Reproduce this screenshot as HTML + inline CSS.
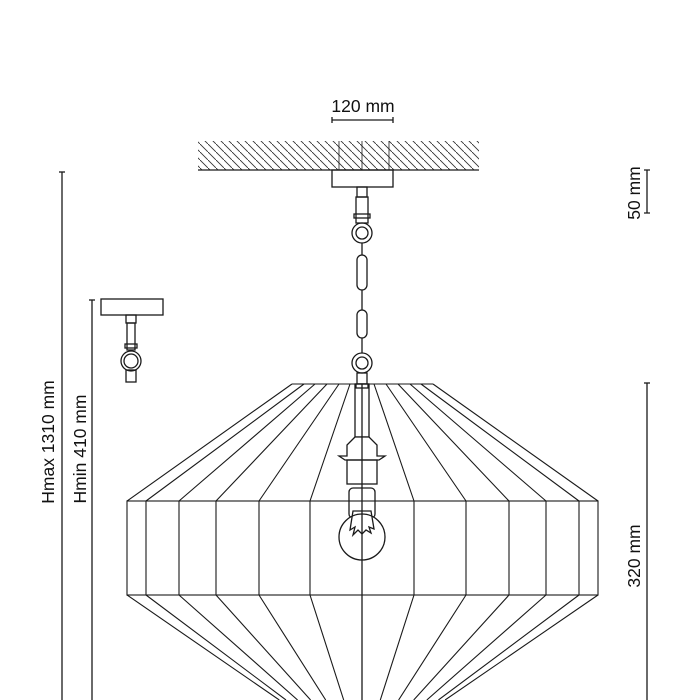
<!DOCTYPE html>
<html><head><style>html,body{margin:0;padding:0;background:#fff;width:700px;height:700px;overflow:hidden}svg{display:block;overflow:hidden}text{font-family:"Liberation Sans",sans-serif;font-size:17.5px;fill:#111;stroke:none}</style></head><body>
<svg width="700" height="700" viewBox="0 0 700 700" fill="none" stroke="#1a1a1a" stroke-width="1.3">
<defs><pattern id="h" width="8" height="8" patternUnits="userSpaceOnUse"><path d="M-2,-2 L10,10" stroke="#333" stroke-width="0.9"/></pattern></defs>
<rect x="198" y="141" width="281" height="29" fill="url(#h)" stroke="none"/>
<line x1="198" y1="170" x2="479" y2="170"/>
<line x1="339" y1="141" x2="339" y2="170" stroke-width="0.8"/><line x1="362" y1="141" x2="362" y2="170" stroke-width="0.8"/><line x1="389" y1="141" x2="389" y2="170" stroke-width="0.8"/>
<rect x="332" y="170" width="61" height="17"/>
<text x="363" y="112" text-anchor="middle">120 mm</text>
<line x1="332" y1="120" x2="393" y2="120"/><path d="M332,117v6M393,117v6"/>
<rect x="357" y="187" width="10" height="10"/>
<rect x="356" y="197" width="12" height="26"/>
<rect x="354" y="214" width="16" height="4"/>
<circle cx="362" cy="233" r="10"/><circle cx="362" cy="233" r="6"/>
<line x1="362" y1="243" x2="362" y2="255"/>
<rect x="357" y="255" width="10" height="35" rx="5"/>
<line x1="362" y1="290" x2="362" y2="310"/>
<rect x="357" y="310" width="10" height="28" rx="5"/>
<line x1="362" y1="338" x2="362" y2="353"/>
<circle cx="362" cy="363" r="10"/><circle cx="362" cy="363" r="6"/>
<rect x="357" y="373" width="10" height="11"/>
<rect x="101" y="299" width="62" height="16"/>
<rect x="126" y="315" width="10" height="8"/><rect x="127" y="323" width="8" height="27"/>
<rect x="125" y="344" width="12" height="4"/>
<circle cx="131" cy="361" r="10"/><circle cx="131" cy="361" r="7"/>
<rect x="126" y="370" width="10" height="12"/>
<g stroke-width="1.1">
<line x1="292" y1="384" x2="433" y2="384"/>
<rect x="127" y="501" width="471" height="94"/>
<path d="M292,384L127,501M304,384L146,501M315,384L179,501M327,384L216,501M339,384L259,501M350,384L310,501M374,384L414,501M386,384L466,501M398,384L509,501M410,384L546,501M421,384L579,501M433,384L598,501"/>
<path d="M146,501V595M179,501V595M216,501V595M259,501V595M310,501V595M414,501V595M466,501V595M509,501V595M546,501V595M579,501V595"/>
<path d="M127,595L279.3,700M146,595L286,700M179,595L297.6,700M216,595L310.6,700M259,595L325.7,700M310,595L343.7,700M414,595L380.3,700M466,595L398.6,700M509,595L413.7,700M546,595L426.8,700M579,595L438.4,700M598,595L445.1,700"/>
</g>
<rect x="355" y="384" width="14" height="53" fill="#fff"/>
<rect x="356" y="384" width="12" height="4"/>
<path d="M355,437L347,445V456H339L345,460H379L385,456H377V445L369,437Z" fill="#fff"/>
<rect x="347" y="460" width="30" height="24"/>
<rect x="349" y="488" width="26" height="30" rx="4"/>
<circle cx="362" cy="537" r="23" fill="#fff"/>
<path d="M353,511L350,530L355,527L353,535L358,530L362,534L366,530L371,533L369,527L374,529L371,511Z"/>
<line x1="362" y1="384" x2="362" y2="700"/>
<line x1="62" y1="172" x2="62" y2="700"/><path d="M59,172h6"/>
<line x1="92" y1="300" x2="92" y2="700"/><path d="M89,300h6"/>
<line x1="647" y1="170" x2="647" y2="213"/><path d="M644,170h6M644,213h6"/>
<line x1="647" y1="383" x2="647" y2="700"/><path d="M644,383h6"/>
<text transform="translate(54,442) rotate(-90)" text-anchor="middle">Hmax 1310 mm</text>
<text transform="translate(86,449) rotate(-90)" text-anchor="middle">Hmin 410 mm</text>
<text transform="translate(640,193) rotate(-90)" text-anchor="middle">50 mm</text>
<text transform="translate(640,556) rotate(-90)" text-anchor="middle">320 mm</text>
</svg>
</body></html>
